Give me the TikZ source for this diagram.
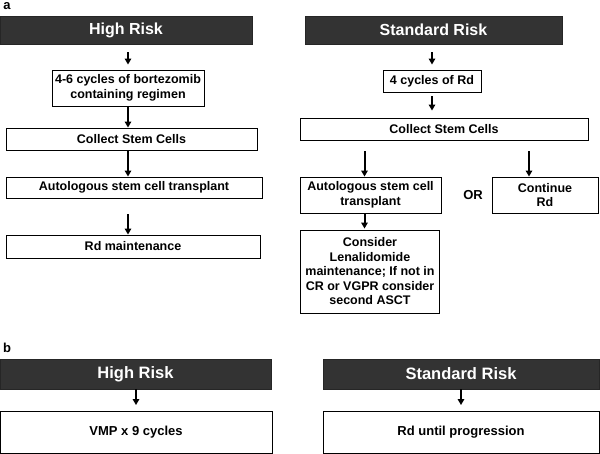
\documentclass[tikz,border=0pt]{standalone}
\usepackage{fontspec}
\setmainfont{Liberation Sans}
\usetikzlibrary{arrows.meta}
\definecolor{hdrgray}{HTML}{333333}
\begin{document}
\begin{tikzpicture}[x=1pt,y=-1pt,
  hdr/.style={draw=black!85, fill=hdrgray, text=white, font=\fontsize{16}{19}\selectfont\bfseries, inner sep=0pt, line width=0.8pt},
  hdrb/.style={hdr, font=\fontsize{16.5}{19}\selectfont\bfseries},
  bx/.style={draw=black, fill=white, font=\fontsize{12.5}{14.5}\selectfont\bfseries, align=center, inner sep=0pt, line width=0.9pt},
  bxb/.style={bx, font=\fontsize{13}{15}\selectfont\bfseries},
  arr/.style={-{Triangle[length=6pt,width=6.5pt]}, line width=2pt},
  lbl/.style={font=\fontsize{13}{15}\selectfont\bfseries, inner sep=0pt}]
\useasboundingbox (0,0) rectangle (600,454);

% labels
\node[lbl] (la) at (7,6) {a};
\node[lbl] (lb) at (7,348) {b};

% ---- part a, left (High Risk)
\node[hdr, minimum width=252pt, minimum height=28pt] (hA1) at (126,30) {High Risk};
\node[bx, minimum width=152pt, minimum height=36pt] (b1) at (128,88) {4-6 cycles of bortezomib\\containing regimen};
\node[bx, minimum width=251pt, minimum height=22pt] (b2) at (131.5,139) {Collect Stem Cells};
\node[bx, minimum width=256pt, minimum height=21pt] (b3) at (134,187.5) {Autologous stem cell transplant};
\node[bx, minimum width=254pt, minimum height=23pt] (b4) at (133,246.5) {Rd maintenance};

\draw[arr, shorten <=8pt, shorten >=5pt] (hA1.south -| b1.north) -- (b1.north);
\draw[arr] (b1.south) -- (b1.south |- b2.north);
\draw[arr] (b1.south |- b2.south) -- (b1.south |- b3.north);
\draw[arr, shorten <=16pt] (b1.south |- b3.south) -- (b1.south |- b4.north);

% ---- part a, right (Standard Risk)
\node[hdr, minimum width=257pt, minimum height=28pt] (hA2) at (433.5,30) {Standard Risk};
\node[bx, minimum width=98pt, minimum height=22pt] (c1) at (432,81) {4 cycles of Rd};
\node[bx, minimum width=288pt, minimum height=22pt] (c2) at (444,129) {Collect Stem Cells};
\node[bx, minimum width=141pt, minimum height=36pt] (c3) at (370.5,195) {Autologous stem cell\\transplant};
\node[lbl] (or) at (473,195) {OR};
\node[bx, minimum width=106pt, minimum height=36pt] (c4) at (545,195) {Continue\\Rd};
\node[bx, minimum width=139pt, minimum height=83pt] (c5) at (370,271.5) {Consider\\Lenalidomide\\maintenance; If not in\\CR or VGPR consider\\second ASCT};

\coordinate (c3in) at ([xshift=-6pt]c3.north);
\coordinate (c3out) at ([xshift=-6pt]c3.south);
\coordinate (c4in) at ([xshift=-16pt]c4.north);

\draw[arr, shorten <=8pt, shorten >=5pt] (hA2.south -| c1.north) -- (c1.north);
\draw[arr, shorten <=4pt, shorten >=7pt] (c1.south) -- (c1.south |- c2.north);
\draw[arr, shorten <=11pt] (c2.south -| c3in) -- (c3in);
\draw[arr, shorten <=11pt] (c2.south -| c4in) -- (c4in);
\draw[arr, shorten >=1pt] (c3out) -- (c3out |- c5.north);

% ---- part b
\node[hdrb, minimum width=271pt, minimum height=30pt] (hB1) at (135.5,374) {High Risk};
\node[bxb, minimum width=272pt, minimum height=42pt] (d1) at (136,432.5) {VMP x 9 cycles};
\node[hdrb, minimum width=276pt, minimum height=30pt] (hB2) at (461,374) {Standard Risk};
\node[bxb, minimum width=276pt, minimum height=42pt] (d2) at (461,432.5) {Rd until progression};

\draw[arr, shorten >=6pt] (hB1.south -| d1.north) -- (d1.north);
\draw[arr, shorten >=6pt] (hB2.south) -- (d2.north);
\end{tikzpicture}
\end{document}
